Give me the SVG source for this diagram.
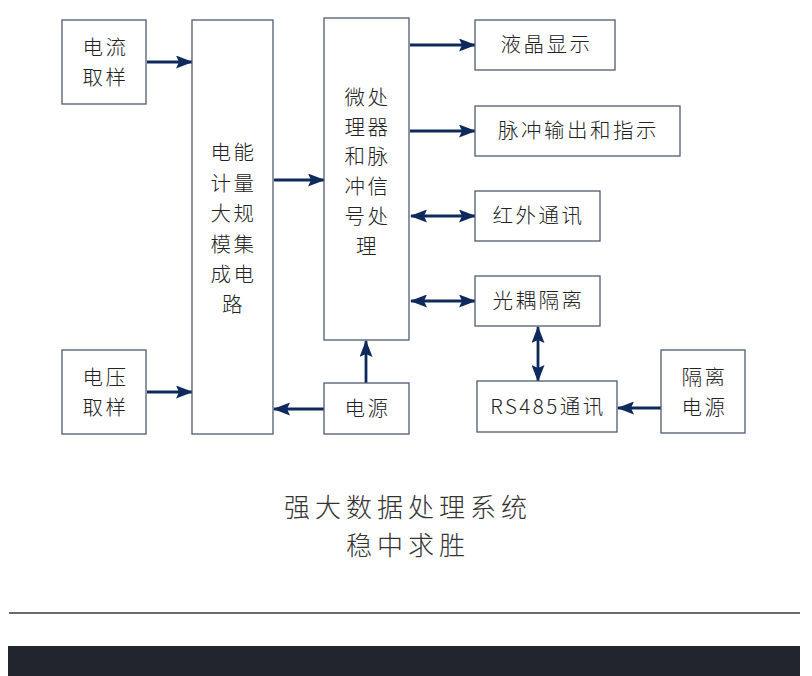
<svg xmlns="http://www.w3.org/2000/svg" width="812" height="676" viewBox="0 0 812 676">
<defs>
<style>
.box{fill:#ffffff;stroke:#4f5b73;stroke-width:1.3}
.t{font-family:"Noto Sans CJK SC","Noto Sans",sans-serif;font-size:20.5px;font-weight:300;fill:#222222;text-anchor:middle;letter-spacing:2.5px}
.title{font-family:"Noto Sans CJK SC","Noto Sans",sans-serif;font-size:26px;font-weight:300;fill:#333333;text-anchor:middle;letter-spacing:5px}
.c{stroke:#0e2a5c;stroke-width:2.8;fill:none;marker-end:url(#ah)}
.cb{stroke:#0e2a5c;stroke-width:2.8;fill:none;marker-end:url(#ah);marker-start:url(#ah)}
</style>
<marker id="ah" markerUnits="userSpaceOnUse" markerWidth="17" markerHeight="13" refX="16" refY="6.5" orient="auto-start-reverse" viewBox="0 0 17 13">
<path d="M0,0 L17,6.5 L0,13 L3,6.5 z" fill="#0e2a5c"/>
</marker>
</defs>
<rect width="812" height="676" fill="#ffffff"/>

<g id="connectors">
<line class="c" x1="147" y1="62" x2="192" y2="62"/>
<line class="c" x1="147" y1="392" x2="192" y2="392"/>
<line class="c" x1="274" y1="180" x2="324" y2="180"/>
<line class="c" x1="324" y1="409" x2="274" y2="409"/>
<line class="c" x1="366" y1="383" x2="366" y2="341"/>
<line class="c" x1="410" y1="45" x2="475" y2="45"/>
<line class="c" x1="410" y1="131" x2="475" y2="131"/>
<line class="cb" x1="411" y1="216" x2="475" y2="216"/>
<line class="cb" x1="411" y1="301" x2="475" y2="301"/>
<line class="cb" x1="538" y1="327" x2="538" y2="381"/>
<line class="c" x1="661" y1="408" x2="618" y2="408"/>
</g>

<g id="n-current">
<rect class="box" x="62" y="20" width="84" height="84"/>
<text class="t" x="105.5" y="55">电流</text>
<text class="t" x="105.5" y="85">取样</text>
</g>
<g id="n-voltage">
<rect class="box" x="62" y="350" width="84" height="84"/>
<text class="t" x="105.5" y="385">电压</text>
<text class="t" x="105.5" y="415">取样</text>
</g>
<g id="n-metering">
<rect class="box" x="192" y="20" width="81" height="414"/>
<text class="t" x="233.5" y="160">电能</text>
<text class="t" x="233.5" y="191">计量</text>
<text class="t" x="233.5" y="221">大规</text>
<text class="t" x="233.5" y="252">模集</text>
<text class="t" x="233.5" y="282">成电</text>
<text class="t" x="233.5" y="312">路</text>
</g>
<g id="n-mcu">
<rect class="box" x="324" y="18" width="85" height="322"/>
<text class="t" x="367.5" y="105">微处</text>
<text class="t" x="367.5" y="135">理器</text>
<text class="t" x="367.5" y="164">和脉</text>
<text class="t" x="367.5" y="194">冲信</text>
<text class="t" x="367.5" y="224">号处</text>
<text class="t" x="367.5" y="254">理</text>
</g>
<g id="n-power">
<rect class="box" x="324" y="383" width="85" height="51"/>
<text class="t" x="367.5" y="416">电源</text>
</g>
<g id="n-lcd">
<rect class="box" x="475" y="20" width="140" height="50"/>
<text class="t" x="546.5" y="52">液晶显示</text>
</g>
<g id="n-pulse">
<rect class="box" x="475" y="106" width="205" height="50"/>
<text class="t" x="578.5" y="138">脉冲输出和指示</text>
</g>
<g id="n-ir">
<rect class="box" x="475" y="191" width="125" height="50"/>
<text class="t" x="538.5" y="223">红外通讯</text>
</g>
<g id="n-opto">
<rect class="box" x="475" y="276" width="125" height="50"/>
<text class="t" x="538.5" y="308">光耦隔离</text>
</g>
<g id="n-rs485">
<rect class="box" x="477" y="381" width="140" height="51"/>
<text class="t" x="548" y="414" letter-spacing="0.5">RS485通讯</text>
</g>
<g id="n-isopower">
<rect class="box" x="661" y="350" width="84" height="83"/>
<text class="t" x="704.5" y="385">隔离</text>
<text class="t" x="704.5" y="415">电源</text>
</g>

<g id="caption">
<text class="title" x="408" y="517">强大数据处理系统</text>
<text class="title" x="408" y="555">稳中求胜</text>
</g>
<line x1="9" y1="613" x2="800" y2="613" stroke="#3a3a3a" stroke-width="1.3"/>
<rect x="8" y="646" width="792" height="30" fill="#22252e"/>
</svg>
